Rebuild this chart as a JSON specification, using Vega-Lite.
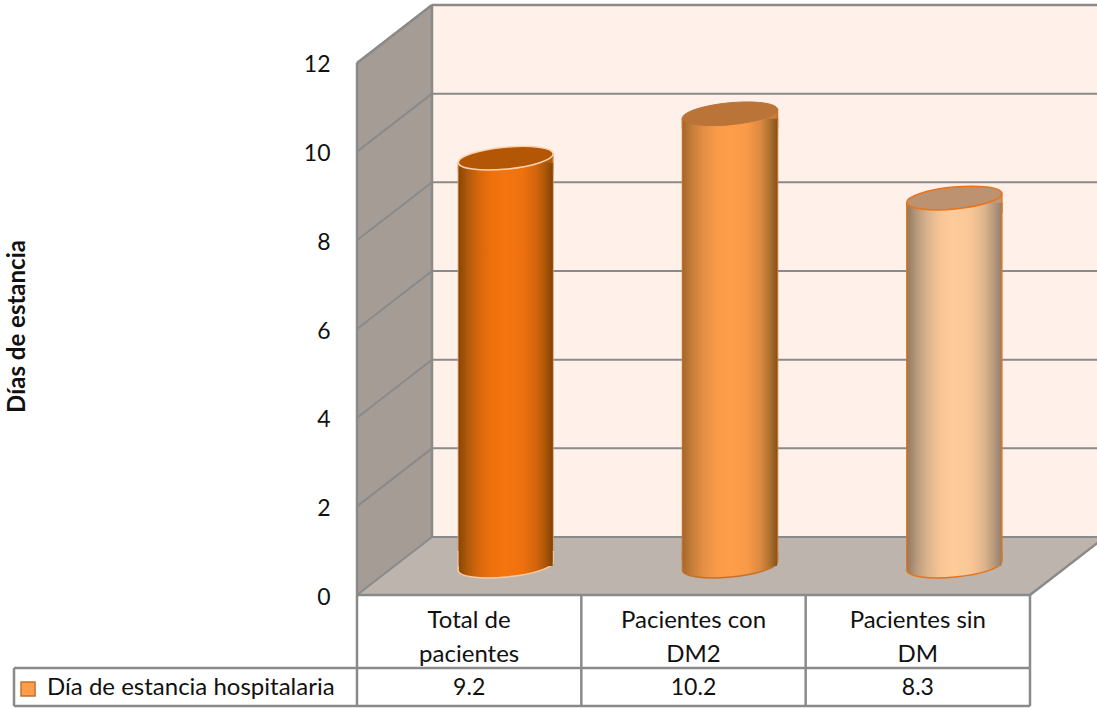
{
  "$schema": "https://vega.github.io/schema/vega-lite/v6.json",
  "width": 1097,
  "height": 709,
  "padding": 0,
  "autosize": "none",
  "background": "white",
  "config": {"view": {"stroke": null}, "font": "Lato", "text": {"font": "Lato", "fontSize": 23, "lineHeight": 34, "lineBreak": "\n", "color": "#111111"}},
  "datasets": {
    "estancia": [
      {"grupo": "total", "categoria": "Total de\npacientes", "valor": 9.2},
      {"grupo": "con_dm2", "categoria": "Pacientes con\nDM2", "valor": 10.2},
      {"grupo": "sin_dm", "categoria": "Pacientes sin\nDM", "valor": 8.3}
    ],
    "rejilla": [
      {"nivel": 0, "fondo": 1.308},
      {"nivel": 2, "fondo": 3.308},
      {"nivel": 4, "fondo": 5.308},
      {"nivel": 6, "fondo": 7.308},
      {"nivel": 8, "fondo": 9.308},
      {"nivel": 10, "fondo": 11.308},
      {"nivel": 12, "fondo": 13.308}
    ],
    "pared": [
      {"x": 0, "y": 12, "y2": 0},
      {"x": 0.3343, "y": 13.308, "y2": 1.308}
    ],
    "suelo": [
      {"y": 0, "x": 0, "x2": 3},
      {"y": 1.308, "x": 0.3343, "x2": 3.3343}
    ],
    "trazos": [
      {"x": 0, "x2": 0, "y": 0, "y2": 12},
      {"x": 0, "x2": 0.3343, "y": 12, "y2": 13.308},
      {"x": 0.3343, "x2": 0.3343, "y": 1.308, "y2": 13.308},
      {"x": 0.3343, "x2": 3.3343, "y": 13.308, "y2": 13.308},
      {"x": 3, "x2": 3.3343, "y": 0, "y2": 1.308},
      {"x": 0, "x2": 3, "y": 0, "y2": 0},
      {"x": -1.529, "x2": 3, "y": -1.647, "y2": -1.647},
      {"x": -1.529, "x2": 3, "y": -2.504, "y2": -2.504},
      {"x": -1.529, "x2": -1.529, "y": -1.647, "y2": -2.504},
      {"x": 0, "x2": 0, "y": 0, "y2": -2.504},
      {"x": 1, "x2": 1, "y": 0, "y2": -2.504},
      {"x": 2, "x2": 2, "y": 0, "y2": -2.504},
      {"x": 3, "x2": 3, "y": 0, "y2": -2.504}
    ],
    "serie": [{"nombre": "Día de estancia hospitalaria"}]
  },
  "resolve": {"scale": {"x": "independent"}},
  "layer": [
    {
      "encoding": {
        "x": {"type": "quantitative", "scale": {"domain": [-1.5914, 3.2987], "nice": false, "zero": false}, "axis": null},
        "y": {"type": "quantitative", "scale": {"domain": [-2.57, 13.42], "nice": false, "zero": false}}
      },
      "layer": [
        {
          "data": {"name": "rejilla"},
          "mark": {"type": "rect", "fill": "#FFF0E9", "clip": true},
          "encoding": {
            "x": {"datum": 0.3343},
            "x2": {"datum": 3.2987},
            "y": {"datum": 1.308, "axis": {"values": [0, 2, 4, 6, 8, 10, 12], "orient": "left", "offset": -330, "labelPadding": 0, "labelOffset": 2, "domain": false, "ticks": false, "grid": false, "labelFont": "Lato", "labelFontSize": 23, "labelColor": "#111111", "title": "Días de estancia", "titleFont": "Lato", "titleFontSize": 24, "titleFontWeight": "bold", "titleColor": "#111111", "titleAngle": 270, "titleX": -313, "titleY": 326, "titleAlign": "center", "titleBaseline": "middle"}},
            "y2": {"datum": 13.308}
          }
        },
        {
          "data": {"name": "pared"},
          "mark": {"type": "area", "fill": "#A59C95", "orient": "vertical"},
          "encoding": {
            "x": {"field": "x", "type": "quantitative"},
            "y": {"field": "y", "type": "quantitative"},
            "y2": {"field": "y2"}
          }
        },
        {
          "data": {"name": "suelo"},
          "mark": {"type": "area", "fill": "#BEB4AE", "orient": "horizontal", "clip": true},
          "encoding": {
            "y": {"field": "y", "type": "quantitative"},
            "x": {"field": "x", "type": "quantitative"},
            "x2": {"field": "x2"}
          }
        },
        {
          "data": {"name": "rejilla"},
          "mark": {"type": "rule", "color": "#8A8A8A", "strokeWidth": 2, "clip": true},
          "encoding": {
            "x": {"datum": 0.3343},
            "x2": {"datum": 3.2987},
            "y": {"field": "fondo", "type": "quantitative"}
          }
        },
        {
          "data": {"name": "rejilla"},
          "mark": {"type": "rule", "color": "#8A8A8A", "strokeWidth": 2},
          "encoding": {
            "x": {"datum": 0},
            "x2": {"datum": 0.3343},
            "y": {"field": "nivel", "type": "quantitative"},
            "y2": {"field": "fondo"}
          }
        },
        {
          "data": {"name": "trazos"},
          "mark": {"type": "rule", "color": "#8A8A8A", "strokeWidth": 2.5, "clip": true},
          "encoding": {
            "x": {"field": "x", "type": "quantitative"},
            "x2": {"field": "x2"},
            "y": {"field": "y", "type": "quantitative"},
            "y2": {"field": "y2"}
          }
        },
        {
          "data": {"name": "serie"},
          "mark": {"type": "point", "shape": "square", "size": 196, "filled": true, "opacity": 1, "fill": "#FF9E4A", "stroke": "#C0702E", "strokeWidth": 1.5},
          "encoding": {"x": {"datum": -1.4664}, "y": {"datum": -2.12}}
        },
        {
          "data": {"name": "serie"},
          "mark": {"type": "text", "align": "left", "baseline": "middle", "fontSize": 24},
          "encoding": {"x": {"datum": -1.3816}, "y": {"datum": -2.09}, "text": {"field": "nombre"}}
        }
      ]
    },
    {
      "data": {"name": "estancia"},
      "encoding": {
        "x": {"field": "grupo", "type": "nominal", "sort": null, "scale": {"type": "band", "domain": ["total", "con_dm2", "sin_dm"], "range": [357, 1030], "paddingInner": 0, "paddingOuter": 0}, "axis": null}
      },
      "layer": [
        {
          "transform": [{"filter": "datum.grupo === 'total'"}],
          "layer": [
            {
              "mark": {"type": "bar", "width": 95, "orient": "vertical", "xOffset": 36.5, "yOffset": -24, "y2Offset": -36, "stroke": "#D9A070", "strokeWidth": 1, "fill": "#8F4A06"},
              "encoding": {"y": {"field": "valor", "type": "quantitative", "stack": null}, "y2": {"datum": 0}}
            },
            {
              "mark": {"type": "point", "shape": "M-1,-0.3L-1,0.095A1,0.23,-5.5,0,0,1,-0.095L1,-0.3Z", "size": 9025, "filled": true, "opacity": 1, "xOffset": 36.5, "yOffset": -29, "stroke": "#F9C9A0", "strokeWidth": 1.5, "fill": {"x1": 0, "y1": 0, "x2": 1, "y2": 0, "gradient": "linear", "stops": [{"offset": 0, "color": "#8A4605"}, {"offset": 0.1, "color": "#B25A09"}, {"offset": 0.22, "color": "#D9670C"}, {"offset": 0.36, "color": "#EE710E"}, {"offset": 0.5, "color": "#F5750F"}, {"offset": 0.68, "color": "#EE710E"}, {"offset": 0.82, "color": "#D4650C"}, {"offset": 0.92, "color": "#AC5708"}, {"offset": 1, "color": "#844303"}]}},
              "encoding": {"y": {"datum": 0}}
            },
            {
              "mark": {"type": "point", "shape": "M-1,0.095L-1,0.3L1,0.3L1,-0.095Z", "size": 9025, "filled": true, "opacity": 1, "xOffset": 36.5, "yOffset": -29, "stroke": "#D9A070", "strokeWidth": 1, "fill": "#B25A09"},
              "encoding": {"y": {"field": "valor", "type": "quantitative", "stack": null}}
            },
            {
              "mark": {"type": "bar", "width": 94, "orient": "vertical", "xOffset": 36.5, "yOffset": -24, "y2Offset": -29, "fill": {"x1": 0, "y1": 0, "x2": 1, "y2": 0, "gradient": "linear", "stops": [{"offset": 0, "color": "#8A4605"}, {"offset": 0.1, "color": "#B25A09"}, {"offset": 0.22, "color": "#D9670C"}, {"offset": 0.36, "color": "#EE710E"}, {"offset": 0.5, "color": "#F5750F"}, {"offset": 0.68, "color": "#EE710E"}, {"offset": 0.82, "color": "#D4650C"}, {"offset": 0.92, "color": "#AC5708"}, {"offset": 1, "color": "#844303"}]}},
              "encoding": {"y": {"field": "valor", "type": "quantitative", "stack": null}, "y2": {"datum": 0}}
            },
            {
              "mark": {"type": "point", "shape": "M-1,0.095A1,0.23,-5.5,1,1,1,-0.095A1,0.23,-5.5,1,1,-1,0.095Z", "size": 9025, "filled": true, "opacity": 1, "xOffset": 36.5, "yOffset": -29, "fill": "#B35706", "stroke": "#FBD3B0", "strokeWidth": 1.5},
              "encoding": {"y": {"field": "valor", "type": "quantitative", "stack": null}}
            }
          ]
        },
        {
          "transform": [{"filter": "datum.grupo === 'con_dm2'"}],
          "layer": [
            {
              "mark": {"type": "bar", "width": 95, "orient": "vertical", "xOffset": 36.5, "yOffset": -24, "y2Offset": -36, "stroke": "#C96F25", "strokeWidth": 1.5, "fill": "#A4692F"},
              "encoding": {"y": {"field": "valor", "type": "quantitative", "stack": null}, "y2": {"datum": 0}}
            },
            {
              "mark": {"type": "point", "shape": "M-1,-0.3L-1,0.095A1,0.23,-5.5,0,0,1,-0.095L1,-0.3Z", "size": 9025, "filled": true, "opacity": 1, "xOffset": 36.5, "yOffset": -29, "stroke": "#C96F25", "strokeWidth": 1.5, "fill": {"x1": 0, "y1": 0, "x2": 1, "y2": 0, "gradient": "linear", "stops": [{"offset": 0, "color": "#A4692F"}, {"offset": 0.1, "color": "#C67E3A"}, {"offset": 0.22, "color": "#E48F45"}, {"offset": 0.36, "color": "#F89A49"}, {"offset": 0.5, "color": "#FF9E4A"}, {"offset": 0.68, "color": "#F89A49"}, {"offset": 0.82, "color": "#DC8A42"}, {"offset": 0.92, "color": "#B0722F"}, {"offset": 1, "color": "#84541F"}]}},
              "encoding": {"y": {"datum": 0}}
            },
            {
              "mark": {"type": "point", "shape": "M-1,0.095L-1,0.3L1,0.3L1,-0.095Z", "size": 9025, "filled": true, "opacity": 1, "xOffset": 36.5, "yOffset": -29, "stroke": "#C96F25", "strokeWidth": 1.5, "fill": "#C67E3A"},
              "encoding": {"y": {"field": "valor", "type": "quantitative", "stack": null}}
            },
            {
              "mark": {"type": "bar", "width": 94, "orient": "vertical", "xOffset": 36.5, "yOffset": -24, "y2Offset": -29, "fill": {"x1": 0, "y1": 0, "x2": 1, "y2": 0, "gradient": "linear", "stops": [{"offset": 0, "color": "#A4692F"}, {"offset": 0.1, "color": "#C67E3A"}, {"offset": 0.22, "color": "#E48F45"}, {"offset": 0.36, "color": "#F89A49"}, {"offset": 0.5, "color": "#FF9E4A"}, {"offset": 0.68, "color": "#F89A49"}, {"offset": 0.82, "color": "#DC8A42"}, {"offset": 0.92, "color": "#B0722F"}, {"offset": 1, "color": "#84541F"}]}},
              "encoding": {"y": {"field": "valor", "type": "quantitative", "stack": null}, "y2": {"datum": 0}}
            },
            {
              "mark": {"type": "point", "shape": "M-1,0.095A1,0.23,-5.5,1,1,1,-0.095A1,0.23,-5.5,1,1,-1,0.095Z", "size": 9025, "filled": true, "opacity": 1, "xOffset": 36.5, "yOffset": -29, "fill": "#BA7437", "stroke": "#BA7437", "strokeWidth": 1},
              "encoding": {"y": {"field": "valor", "type": "quantitative", "stack": null}}
            }
          ]
        },
        {
          "transform": [{"filter": "datum.grupo === 'sin_dm'"}],
          "layer": [
            {
              "mark": {"type": "bar", "width": 95, "orient": "vertical", "xOffset": 36.5, "yOffset": -24, "y2Offset": -36, "stroke": "#E8731A", "strokeWidth": 1.5, "fill": "#957A60"},
              "encoding": {"y": {"field": "valor", "type": "quantitative", "stack": null}, "y2": {"datum": 0}}
            },
            {
              "mark": {"type": "point", "shape": "M-1,-0.3L-1,0.095A1,0.23,-5.5,0,0,1,-0.095L1,-0.3Z", "size": 9025, "filled": true, "opacity": 1, "xOffset": 36.5, "yOffset": -29, "stroke": "#E8731A", "strokeWidth": 1.5, "fill": {"x1": 0, "y1": 0, "x2": 1, "y2": 0, "gradient": "linear", "stops": [{"offset": 0, "color": "#957A60"}, {"offset": 0.1, "color": "#B89A7C"}, {"offset": 0.22, "color": "#DDB48C"}, {"offset": 0.36, "color": "#F8C696"}, {"offset": 0.5, "color": "#FFCB99"}, {"offset": 0.68, "color": "#F8C696"}, {"offset": 0.82, "color": "#DDB48C"}, {"offset": 0.92, "color": "#B89A7C"}, {"offset": 1, "color": "#948070"}]}},
              "encoding": {"y": {"datum": 0}}
            },
            {
              "mark": {"type": "point", "shape": "M-1,0.095L-1,0.3L1,0.3L1,-0.095Z", "size": 9025, "filled": true, "opacity": 1, "xOffset": 36.5, "yOffset": -29, "stroke": "#E8731A", "strokeWidth": 1.5, "fill": "#B89A7C"},
              "encoding": {"y": {"field": "valor", "type": "quantitative", "stack": null}}
            },
            {
              "mark": {"type": "bar", "width": 94, "orient": "vertical", "xOffset": 36.5, "yOffset": -24, "y2Offset": -29, "fill": {"x1": 0, "y1": 0, "x2": 1, "y2": 0, "gradient": "linear", "stops": [{"offset": 0, "color": "#957A60"}, {"offset": 0.1, "color": "#B89A7C"}, {"offset": 0.22, "color": "#DDB48C"}, {"offset": 0.36, "color": "#F8C696"}, {"offset": 0.5, "color": "#FFCB99"}, {"offset": 0.68, "color": "#F8C696"}, {"offset": 0.82, "color": "#DDB48C"}, {"offset": 0.92, "color": "#B89A7C"}, {"offset": 1, "color": "#948070"}]}},
              "encoding": {"y": {"field": "valor", "type": "quantitative", "stack": null}, "y2": {"datum": 0}}
            },
            {
              "mark": {"type": "point", "shape": "M-1,0.095A1,0.23,-5.5,1,1,1,-0.095A1,0.23,-5.5,1,1,-1,0.095Z", "size": 9025, "filled": true, "opacity": 1, "xOffset": 36.5, "yOffset": -29, "fill": "#BC9270", "stroke": "#E8731A", "strokeWidth": 1.5},
              "encoding": {"y": {"field": "valor", "type": "quantitative", "stack": null}}
            }
          ]
        },
        {
          "mark": {"type": "text", "align": "center", "baseline": "middle", "fontSize": 24},
          "encoding": {"y": {"datum": -0.58}, "text": {"field": "categoria"}}
        },
        {
          "mark": {"type": "text", "align": "center", "baseline": "middle"},
          "encoding": {"y": {"datum": -2.09}, "text": {"field": "valor", "format": ".1f"}}
        }
      ]
    }
  ]
}
